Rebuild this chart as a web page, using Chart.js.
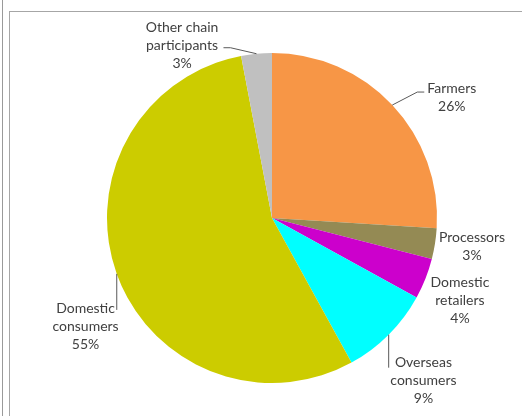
<!DOCTYPE html>
<html>
<head>
<meta charset="utf-8">
<script src="https://cdn.jsdelivr.net/npm/chart.js@4/dist/chart.umd.min.js"></script>
<style>
  html, body { margin: 0; padding: 0; background: #ffffff; }
  body { width: 522px; height: 416px; position: relative; overflow: hidden; }
  .rule { position: absolute; left: 2px; top: 0; width: 1px; height: 416px; background: #9a9a9a; }
  .frame { position: absolute; left: 9px; top: 11px; width: 530px; height: 420px;
           border-left: 1px solid #a6a6a6; border-top: 1px solid #a6a6a6; box-sizing: border-box; }
  #wrap { position: absolute; left: 0; top: 0; width: 522px; height: 416px; }
</style>
</head>
<body>
<div class="rule"></div>
<div class="frame"></div>
<div id="wrap"><canvas id="c" width="522" height="416"></canvas></div>
<script>
// Share of the value chain, by participant (percent)
const categories = [
  ['Farmers'],
  ['Processors'],
  ['Domestic', 'retailers'],
  ['Overseas', 'consumers'],
  ['Domestic', 'consumers'],
  ['Other chain', 'participants']
];
const shares = [26, 3, 4, 9, 55, 3];
const sliceColors = ['#F79646', '#948A54', '#CC00CC', '#00FFFF', '#CCCC00', '#C0C0C0'];

// Label block centres, in units of the pie radius from its centre,
// plus optional leader lines (elbow offsets in px from the slice edge).
const labelLayout = [
  { pos: [1.09, -0.733], leader: [[25, -13], [32, -13]] },
  { pos: [1.212, 0.173] },
  { pos: [1.139, 0.497] },
  { pos: [0.918, 0.982], leader: [[0, 33]] },
  { pos: [-1.13, 0.655], leader: [[0, 36]] },
  { pos: [-0.545, -1.048], leader: [[-26, -6], [-33, -6]] }
];

const labelPlugin = {
  id: 'sliceLabels',
  afterDatasetsDraw(chart) {
    const ctx = chart.ctx;
    const meta = chart.getDatasetMeta(0);
    const total = shares.reduce((a, b) => a + b, 0);
    ctx.save();
    meta.data.forEach((arc, i) => {
      const p = arc.getProps(['x', 'y', 'startAngle', 'endAngle', 'outerRadius'], true);
      const r = p.outerRadius;
      const mid = (p.startAngle + p.endAngle) / 2;
      const ax = p.x + Math.cos(mid) * r;
      const ay = p.y + Math.sin(mid) * r;
      const lay = labelLayout[i];

      if (lay.leader) {
        ctx.strokeStyle = '#595959';
        ctx.lineWidth = 1;
        ctx.beginPath();
        ctx.moveTo(ax, ay);
        lay.leader.forEach(([dx, dy]) => ctx.lineTo(ax + dx, ay + dy));
        ctx.stroke();
      }

      const pct = Math.round(shares[i] / total * 100) + '%';
      const lines = categories[i].concat([pct]);
      const lh = 18;
      const cx = p.x + lay.pos[0] * r;
      const cy = p.y + lay.pos[1] * r;
      ctx.fillStyle = '#404040';
      ctx.font = '14px Lato, "Open Sans", sans-serif';
      ctx.textAlign = 'center';
      ctx.textBaseline = 'middle';
      lines.forEach((t, k) => {
        ctx.fillText(t, cx, cy + (k - (lines.length - 1) / 2) * lh);
      });
    });
    ctx.restore();
  }
};

new Chart(document.getElementById('c'), {
  type: 'pie',
  data: {
    labels: categories.map(c => c.join(' ')),
    datasets: [{
      data: shares,
      backgroundColor: sliceColors,
      borderWidth: 0
    }]
  },
  options: {
    responsive: false,
    animation: false,
    layout: { padding: { left: 107, right: 85, top: 53, bottom: 33 } },
    plugins: {
      legend: { display: false },
      tooltip: { enabled: false }
    }
  },
  plugins: [labelPlugin]
});
</script>
</body>
</html>
